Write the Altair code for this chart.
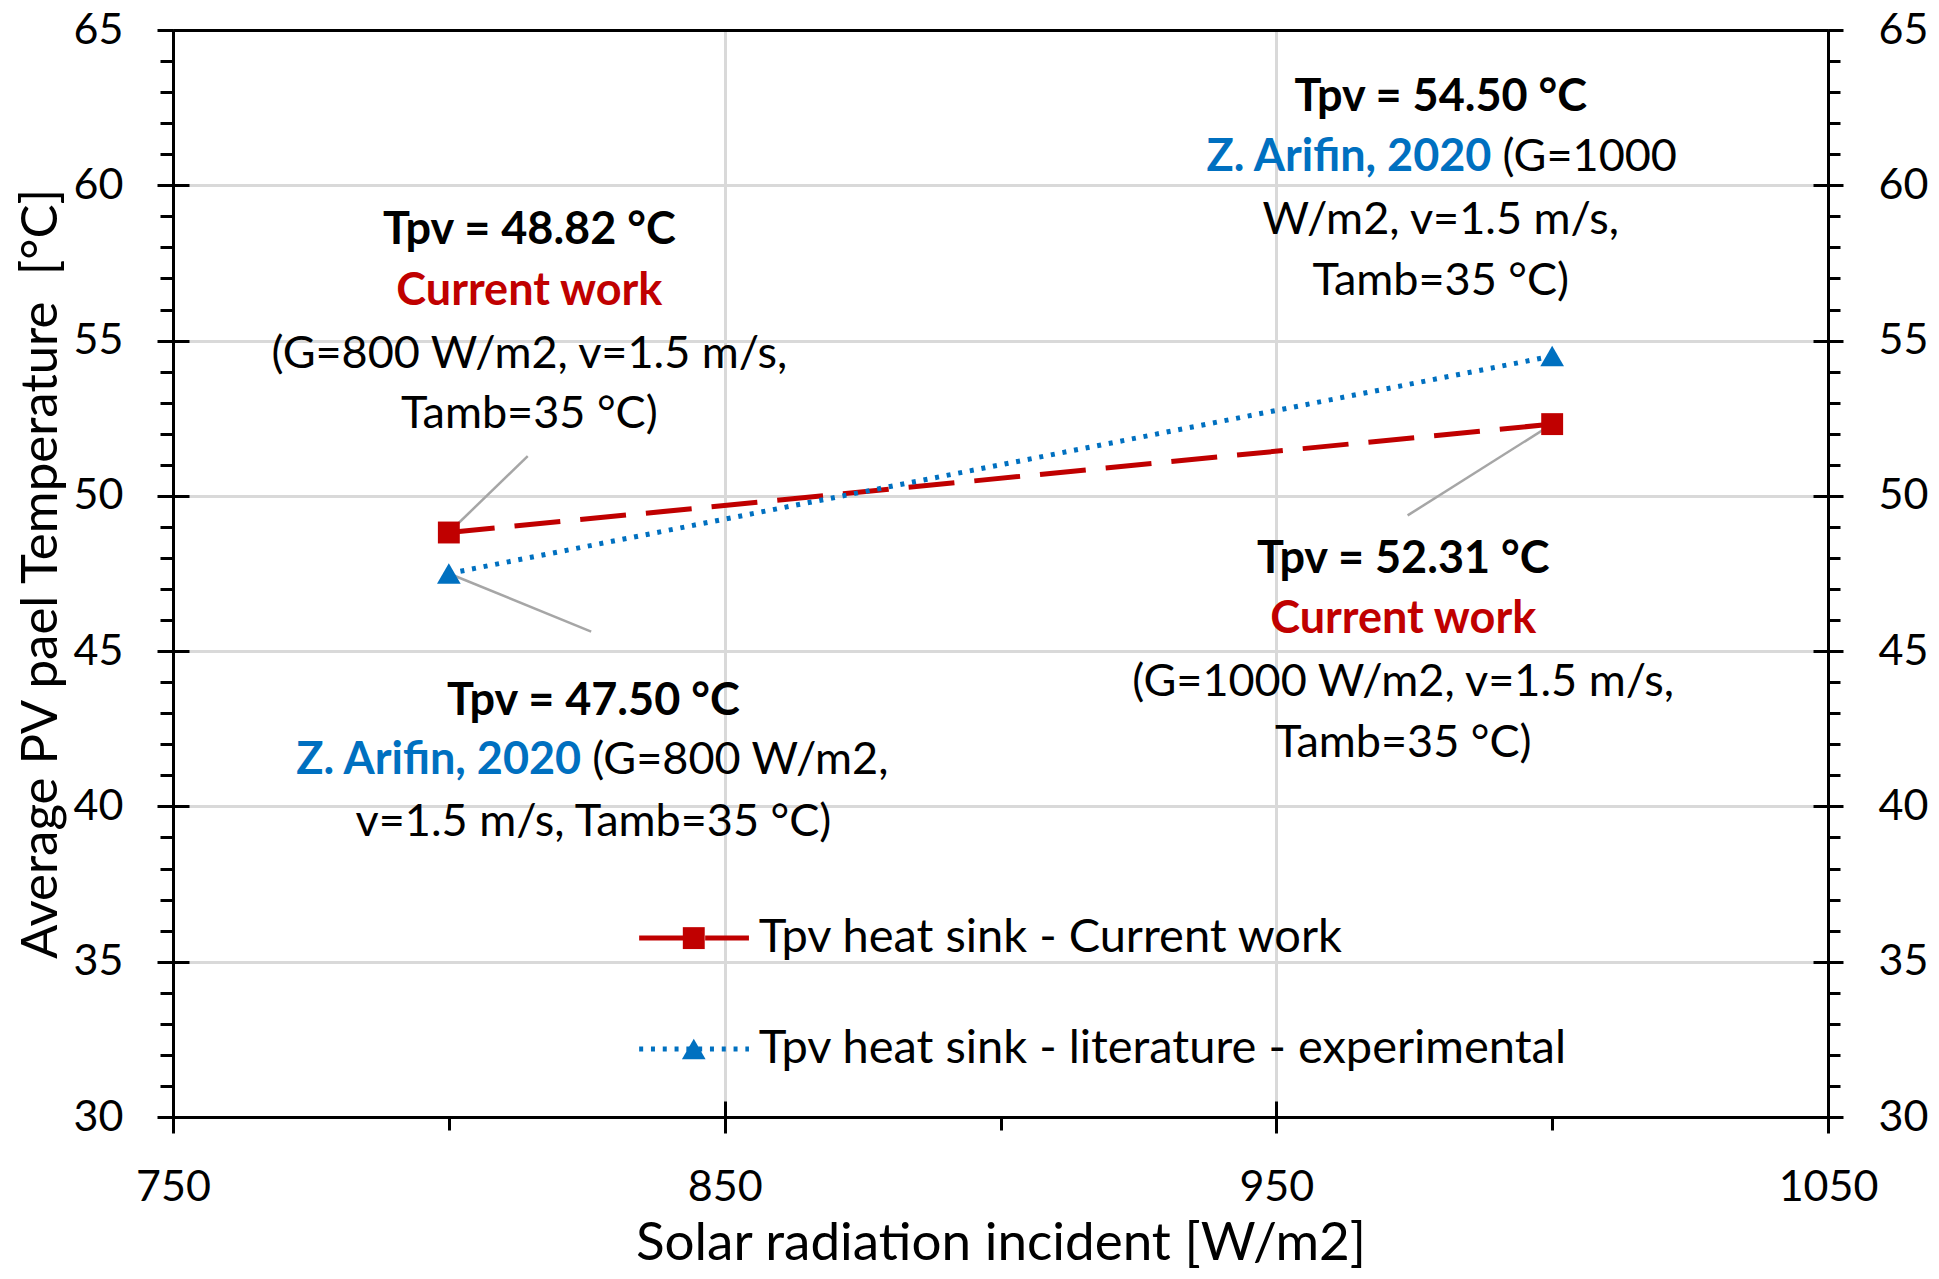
import altair as alt
import pandas as pd

# series
irradiance = [800, 1000]
t_current = [48.82, 52.31]
t_literature = [47.50, 54.50]
series_keys = ["current", "literature"]
series_names = ["Tpv heat sink - Current work",
                "Tpv heat sink - literature - experimental"]

# annotation texts (data coordinates)
ann_text = [
    "Tpv = 48.82 °C", "Current work", "(G=800 W/m2, v=1.5 m/s,", "Tamb=35 °C)",
    "Tpv = 54.50 °C", "Z. Arifin, 2020", "(G=1000", "W/m2, v=1.5 m/s,", "Tamb=35 °C)",
    "Tpv = 52.31 °C", "Current work", "(G=1000 W/m2, v=1.5 m/s,", "Tamb=35 °C)",
    "Tpv = 47.50 °C", "Z. Arifin, 2020", "(G=800 W/m2,", "v=1.5 m/s, Tamb=35 °C)",
]
ann_x = [814.6, 814.6, 814.6, 814.6,
         979.8, 989.0, 991.0, 979.8, 979.8,
         973.0, 973.0, 973.0, 973.0,
         826.2, 824.0, 826.0, 826.2]
ann_y = [58.57, 56.60, 54.58, 52.62,
         62.85, 60.90, 60.90, 58.87, 56.93,
         47.98, 46.03, 44.00, 42.05,
         43.40, 41.49, 41.49, 39.50]
ann_color = ["black", "#C00000", "black", "black",
             "black", "#0070C0", "black", "black", "black",
             "black", "#C00000", "black", "black",
             "black", "#0070C0", "black", "black"]
ann_bold = [1, 1, 0, 0,
            1, 1, 0, 0, 0,
            1, 1, 0, 0,
            1, 1, 0, 0]
ann_align = ["center"] * 5 + ["right", "left"] + ["center"] * 7 + ["right", "left", "center"]

# leader lines: from label to point
lead_x = [814.3, 973.8, 825.8]
lead_y = [51.28, 49.37, 45.63]
lead_x2 = [irradiance[0], irradiance[1], irradiance[0]]
lead_y2 = [t_current[0], t_current[1], t_literature[0]]

# hand-made legend inside the plot
leg_x = [834.5, 834.5]
leg_x2 = [854.4, 854.4]
leg_mark_x = [844.4, 844.4]
leg_text_x = [856.2, 856.2]
leg_y = [35.76, 32.19]

RED = "#C00000"
BLUE = "#0070C0"
FONT = "Lato"

df = pd.DataFrame({
    "G": irradiance * 2,
    "T": t_current + t_literature,
    "series": [series_keys[0]] * 2 + [series_keys[1]] * 2,
})
ann = pd.DataFrame({"text": ann_text, "G": ann_x, "T": ann_y, "color": ann_color,
                    "bold": ann_bold, "halign": ann_align})
leads = pd.DataFrame({"G": lead_x, "T": lead_y, "G2": lead_x2, "T2": lead_y2})
leg = pd.DataFrame({"G": leg_x, "G2": leg_x2, "Gm": leg_mark_x, "Gt": leg_text_x,
                    "T": leg_y, "series": series_keys, "name": series_names})

xs = alt.Scale(domain=[750, 1050], nice=False, zero=False)
ys = alt.Scale(domain=[30, 65], nice=False, zero=False)
col = alt.Scale(domain=series_keys, range=[RED, BLUE])
dash = alt.Scale(domain=series_keys, range=[[46, 20], [4, 7.8]])
shp = alt.Scale(domain=series_keys, range=["square", "triangle-up"])
msize = alt.Scale(domain=series_keys, range=[480, 560])

major_y = list(range(30, 66, 5))
minor_y = list(range(30, 66, 1))
major_x = [750, 850, 950, 1050]
minor_x = list(range(750, 1051, 50))

tick_style = dict(tickColor="black", tickWidth=3, domainColor="black", domainWidth=3,
                  labelColor="black", labelFont=FONT, labelFontSize=43, labelFlush=False,
                  format="d", grid=False, zindex=1)


def frame(xaxis, yaxis):
    return alt.Chart(df).mark_point(opacity=0).encode(
        x=alt.X("G:Q", scale=xs, axis=xaxis),
        y=alt.Y("T:Q", scale=ys, axis=yaxis),
    )


grid = frame(
    alt.Axis(orient="bottom", values=[850, 950], grid=True, gridColor="#D9D9D9", gridWidth=3,
             ticks=False, labels=False, domain=False, title=None, zindex=0),
    alt.Axis(orient="left", values=major_y[1:-1], grid=True, gridColor="#D9D9D9", gridWidth=3,
             ticks=False, labels=False, domain=False, title=None, zindex=0),
)
left_main = frame(None, alt.Axis(
    orient="left", values=major_y, tickSize=16, labelPadding=34, domain=True,
    title="Average PV pael Temperature \u00a0[°C]", titleFont=FONT, titleFontSize=51,
    titleFontWeight="normal", titleColor="black", titlePadding=6, **tick_style))
left_minor = frame(None, alt.Axis(
    orient="left", values=minor_y, tickSize=13, labels=False, domain=False, title=None,
    **tick_style))
left_inner = frame(None, alt.Axis(
    orient="left", values=major_y, tickSize=16, offset=-16, labels=False, domain=False,
    title=None, **tick_style))
right_main = frame(None, alt.Axis(
    orient="right", values=major_y, tickSize=15, labelPadding=35, domain=True, title=None,
    **tick_style))
right_minor = frame(None, alt.Axis(
    orient="right", values=minor_y, tickSize=12, labels=False, domain=False, title=None,
    **tick_style))
right_inner = frame(None, alt.Axis(
    orient="right", values=major_y, tickSize=15, offset=-15, labels=False, domain=False,
    title=None, **tick_style))
bottom_main = frame(alt.Axis(
    orient="bottom", values=major_x, tickSize=16, labelPadding=33, domain=True,
    title="Solar radiation incident [W/m2]", titleFont=FONT, titleFontSize=53,
    titleFontWeight="normal", titleColor="black", titlePadding=8, **tick_style), None)
bottom_minor = frame(alt.Axis(
    orient="bottom", values=minor_x, tickSize=13, labels=False, domain=False, title=None,
    **tick_style), None)
bottom_inner = frame(alt.Axis(
    orient="bottom", values=major_x, tickSize=16, offset=-16, labels=False, domain=False,
    title=None, **tick_style), None)
top_line = frame(alt.Axis(
    orient="top", ticks=False, labels=False, domain=True, title=None, **tick_style), None)

x_enc = alt.X("G:Q", scale=xs, axis=None)
y_enc = alt.Y("T:Q", scale=ys, axis=None)

lines = alt.Chart(df).mark_line(strokeWidth=5).encode(
    x=x_enc, y=y_enc,
    color=alt.Color("series:N", scale=col, legend=None),
    strokeDash=alt.StrokeDash("series:N", scale=dash, legend=None),
)
points = alt.Chart(df).mark_point(filled=True, opacity=1).encode(
    x=x_enc, y=y_enc,
    color=alt.Color("series:N", scale=col, legend=None),
    shape=alt.Shape("series:N", scale=shp, legend=None),
    size=alt.Size("series:N", scale=msize, legend=None),
)
leaders = alt.Chart(leads).mark_rule(color="#A6A6A6", strokeWidth=2.5).encode(
    x=x_enc, y=y_enc, x2="G2:Q", y2="T2:Q")

texts = []
for bold in (1, 0):
    for align in ("center", "left", "right"):
        sub = ann[(ann["bold"] == bold) & (ann["halign"] == align)]
        if len(sub) == 0:
            continue
        texts.append(alt.Chart(sub).mark_text(
            font=FONT, fontSize=45, fontWeight="bold" if bold else "normal",
            align=align, baseline="middle").encode(
            x=x_enc, y=y_enc, text="text:N",
            color=alt.Color("color:N", scale=None)))

leg_lines = alt.Chart(leg).mark_rule(strokeWidth=5).encode(
    x=alt.X("G:Q", scale=xs, axis=None), x2="G2:Q", y=y_enc,
    color=alt.Color("series:N", scale=col, legend=None),
    strokeDash=alt.StrokeDash("series:N", scale=alt.Scale(
        domain=series_keys, range=[[1, 0], [4, 7.8]]), legend=None),
)
leg_marks = alt.Chart(leg).mark_point(filled=True, opacity=1).encode(
    x=alt.X("Gm:Q", scale=xs, axis=None), y=y_enc,
    color=alt.Color("series:N", scale=col, legend=None),
    shape=alt.Shape("series:N", scale=shp, legend=None),
    size=alt.Size("series:N", scale=msize, legend=None),
)
leg_text = alt.Chart(leg).mark_text(
    font=FONT, fontSize=47, align="left", baseline="middle", color="black").encode(
    x=alt.X("Gt:Q", scale=xs, axis=None), y=y_enc, text="name:N")

chart = alt.layer(
    grid, left_main, left_minor, left_inner, right_main, right_minor, right_inner,
    bottom_main, bottom_minor, bottom_inner, top_line,
    lines, leaders, points, *texts, leg_lines, leg_marks, leg_text,
).resolve_axis(x="independent", y="independent").properties(
    width=1655, height=1087,
    autosize=alt.AutoSizeParams(type="none"),
    padding={"left": 165, "top": 22, "right": 100, "bottom": 160},
).configure_view(stroke=None).configure(font=FONT, background="white")

chart.save("out.html", embed_options={"renderer": "svg", "actions": False})
